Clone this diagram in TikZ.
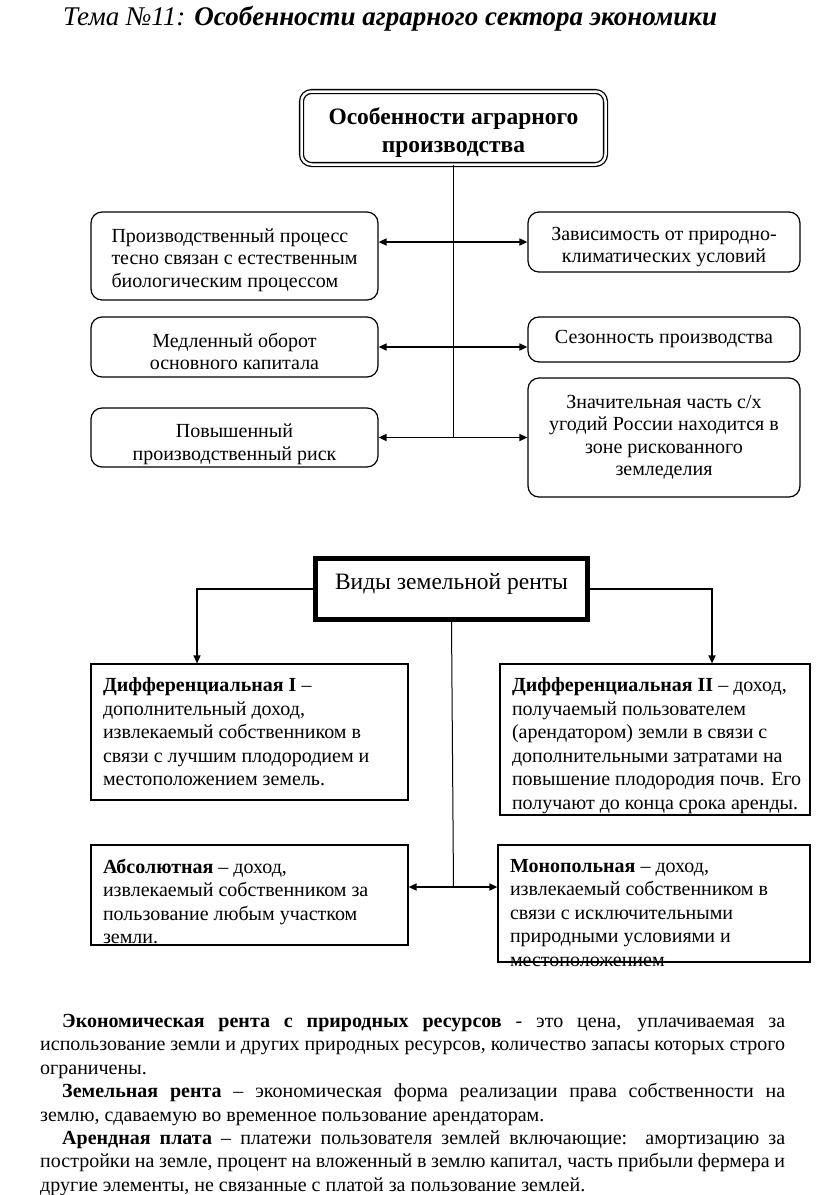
\documentclass[tikz,border=0pt]{standalone}
\usepackage{fontspec}
\setmainfont{Liberation Serif}
\usetikzlibrary{arrows.meta, positioning}

\tikzset{
  feat/.style={draw, rounded corners=11pt, line width=1.2pt, inner sep=0pt, font=\fontsize{20}{22.5}\selectfont},
  rent/.style={draw, line width=1.2pt, inner xsep=5pt, inner ysep=14pt, font=\fontsize{20}{23.5}\selectfont},
  tip/.style={-{Triangle[length=8pt,width=7pt]}, line width=1.3pt},
  bitip/.style={{Triangle[length=8pt,width=7pt]}-{Triangle[length=8pt,width=7pt]}, line width=1.6pt},
}
\newcommand{\lift}[1]{\rule{0pt}{#1}}
\newcommand{\rtext}[3]{\parbox[c][#1][t]{#2}{\raggedright\leftskip=7pt #3}}

\begin{document}
\begin{tikzpicture}[x=1pt, y=-1pt]
    \useasboundingbox (0,0) rectangle (816,1195);
    % title
    \node[anchor=west, inner sep=0pt, font=\fontsize{27}{30}\selectfont\itshape] (title) at (63,19)
        {Тема №11: \textbf{Особенности аграрного сектора экономики}};

    % features
    \node[draw, double, double distance=2.5pt, line width=1.3pt, rounded corners=10pt,
          minimum width=304pt, minimum height=73pt, align=center,
          font=\fontsize{23.5}{28}\selectfont\bfseries] (top) at (453.5,128)
        {\lift{25pt}Особенности аграрного\\производства};
    \node[feat, minimum width=287pt, minimum height=88pt, align=left] (l1) at (234.5,256)
        {\lift{22pt}Производственный процесс\\тесно связан с естественным\hspace*{14pt}\\биологическим процессом};
    \node[feat, minimum width=287pt, minimum height=60pt, align=center] (l2) at (234.5,347)
        {\lift{23pt}Медленный оборот\\основного капитала};
    \node[feat, minimum width=287pt, minimum height=59pt, align=center] (l3) at (234.5,437.5)
        {\lift{27pt}Повышенный\\производственный риск};
    \node[feat, minimum width=272pt, minimum height=60pt, align=center] (r1) at (664,242)
        {\lift{23pt}Зависимость от природно-\\климатических условий};
    \node[feat, minimum width=272pt, minimum height=45pt, align=center] (r2) at (664,339.5)
        {Сезонность производства};
    \node[feat, minimum width=272pt, minimum height=119pt, align=center] (r3) at (664,437.5)
        {Значительная часть с/х\\угодий России находится в\\зоне рискованного\\земледелия};

    \coordinate (fj) at (453.5,437);
    \draw[line width=1pt] (top.south) -- (fj);
    \draw[bitip] (l1.east |- r1.west) -- (r1.west);
    \draw[bitip] (l2.east) -- (l2.east -| r2.west);
    \draw[bitip] (l3.east) -- (r3.west);

    % rent
    \node[draw, line width=4.5pt, minimum width=272pt, minimum height=61pt, text depth=15pt,
          font=\fontsize{23.5}{26}\selectfont] (vid) at (451.5,589) {Виды земельной ренты};
    \draw[line width=1.2pt] ([shift={(4pt,-4pt)}]vid.north west) rectangle ([shift={(-4pt,4pt)}]vid.south east);

    \node[rent] (d1) at (249.5,732) {\rtext{108pt}{307pt}{\textbf{Дифференциальная I} –\\
        дополнительный доход,\\извлекаемый собственником в\\связи с лучшим плодородием и\\местоположением земель.}};
    \node[rent] (d2) at (655,739.5) {\rtext{123pt}{300pt}{\textbf{Дифференциальная II} – доход,\\
        получаемый пользователем\\(арендатором) земли в связи с\\дополнительными затратами на\\повышение плодородия почв. Его\\получают до конца срока аренды.}};
    \node[rent] (ab) at (249.5,895) {\rtext{72pt}{307pt}{\textbf{Абсолютная} – доход,\\
        извлекаемый собственником за\\пользование любым участком\\земли.}};
    \node[rent] (mo) at (654,903.5) {\rtext{89pt}{302pt}{\textbf{Монопольная} – доход,\\
        извлекаемый собственником в\\связи с исключительными\\природными условиями и\\местоположением}};

    \draw[tip] (vid.west) -| ([xshift=-52.5pt]d1.north);
    \draw[tip] (vid.east) -| ([xshift=57pt]d2.north);
    \coordinate (rj) at (453.5,887);
    \draw[line width=1pt] (vid.south) -- (rj);
    \draw[bitip] (ab.east |- rj) -- (mo.west |- rj);

    % definitions
    \node[anchor=north west, inner sep=0pt, text width=745pt, align=justify,
          font=\fontsize{20}{23.4}\selectfont] (defs) at (40,1014)
        {\setlength{\parindent}{0pt}%
         \hspace*{22pt}\textbf{Экономическая рента с природных ресурсов} - это цена, уплачиваемая за\linebreak
         использование земли и других природных ресурсов, количество запасы которых строго\linebreak
         ограничены.\par
         \hspace*{22pt}\textbf{Земельная рента} – экономическая форма реализации права собственности на\linebreak
         землю, сдаваемую во временное пользование арендаторам.\par
         \hspace*{22pt}\textbf{Арендная плата} – платежи пользователя землей включающие:\ \ амортизацию за\linebreak
         постройки на земле, процент на вложенный в землю капитал, часть прибыли фермера и\linebreak
         другие элементы, не связанные с платой за пользование землей.\par};
\end{tikzpicture}
\end{document}
